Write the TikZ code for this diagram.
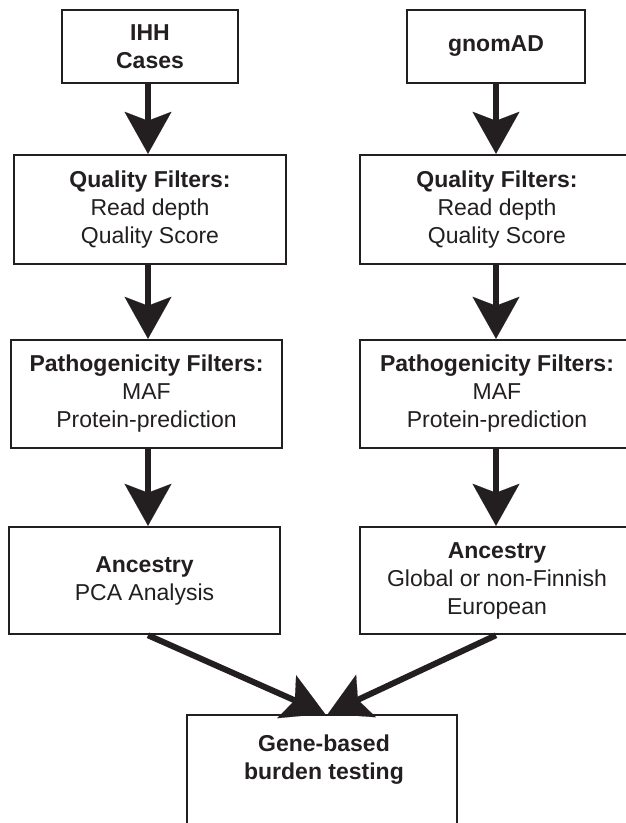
\documentclass[tikz,border=0pt]{standalone}
\usepackage{fontspec}
\setmainfont{Liberation Sans}
\usetikzlibrary{arrows.meta}
\definecolor{ink}{HTML}{231F20}
\begin{document}
\begin{tikzpicture}[x=1pt,y=-1pt,
  box/.style={draw=ink, line width=2.5pt, rectangle, inner sep=0pt, align=center,
    text=ink, font=\fontsize{23}{28}\selectfont},
  plain/.style={inner sep=0pt, align=center, text=ink, font=\fontsize{23}{28}\selectfont},
  arr/.style={draw=ink, line width=6pt,
    -{Stealth[length=42pt,width=47pt,inset=9pt,line width=0.1pt]}}]
\useasboundingbox (0,0) rectangle (626,823);
\clip (0,0) rectangle (626,823);
\fill[white] (0,0) rectangle (626,823);
\coordinate (xL) at (148,0);
\coordinate (xR) at (496,0);
% left column
\node[box, minimum width=176pt, minimum height=73pt] (ihh) at (150,46.5) {\textbf{IHH}\\\textbf{Cases}};
\node[box, minimum width=272pt, minimum height=109pt] (qfL) at (150,209.5) {\textbf{Quality Filters:}\\Read depth\\Quality Score};
\node[box, minimum width=271pt, minimum height=108pt] (paL) at (146.5,394) {\textbf{Pathogenicity Filters:}\\MAF\\Protein-prediction};
\node[box, minimum width=271pt, minimum height=107pt] (anL) at (144.5,580.5) {\textbf{Ancestry}\\PCA Analysis};
% right column
\node[box, minimum width=178pt, minimum height=73pt] (gno) at (496,46.5) {\textbf{gnomAD}};
\node[box, minimum width=274pt, minimum height=109pt] (qfR) at (497,209.5) {\textbf{Quality Filters:}\\Read depth\\Quality Score};
\node[box, minimum width=274pt, minimum height=108pt] (paR) at (497,394) {\textbf{Pathogenicity Filters:}\\MAF\\Protein-prediction};
\node[box, minimum width=274pt, minimum height=107pt] (anR) at (497,580.5) {\textbf{Ancestry}\\Global or non-Finnish\\European};
% bottom
\node[box, minimum width=270pt, minimum height=120pt] (gene) at (322,775) {};
\node[plain] (genetxt) at (324,760) {\textbf{Gene-based}\\\textbf{burden testing}};
% arrows
\draw[arr] (ihh.south -| xL) -- (qfL.north -| xL);
\draw[arr] (qfL.south -| xL) -- (paL.north -| xL);
\draw[arr] (paL.south -| xL) -- (anL.north -| xL);
\draw[arr] (gno.south -| xR) -- (qfR.north -| xR);
\draw[arr] (qfR.south -| xR) -- (paR.north -| xR);
\draw[arr] (paR.south -| xR) -- (anR.north -| xR);
\draw[arr] (anL.south -| xL) -- ([xshift=3pt]gene.north);
\draw[arr] (anR.south -| xR) -- ([xshift=6pt]gene.north);
\end{tikzpicture}
\end{document}
